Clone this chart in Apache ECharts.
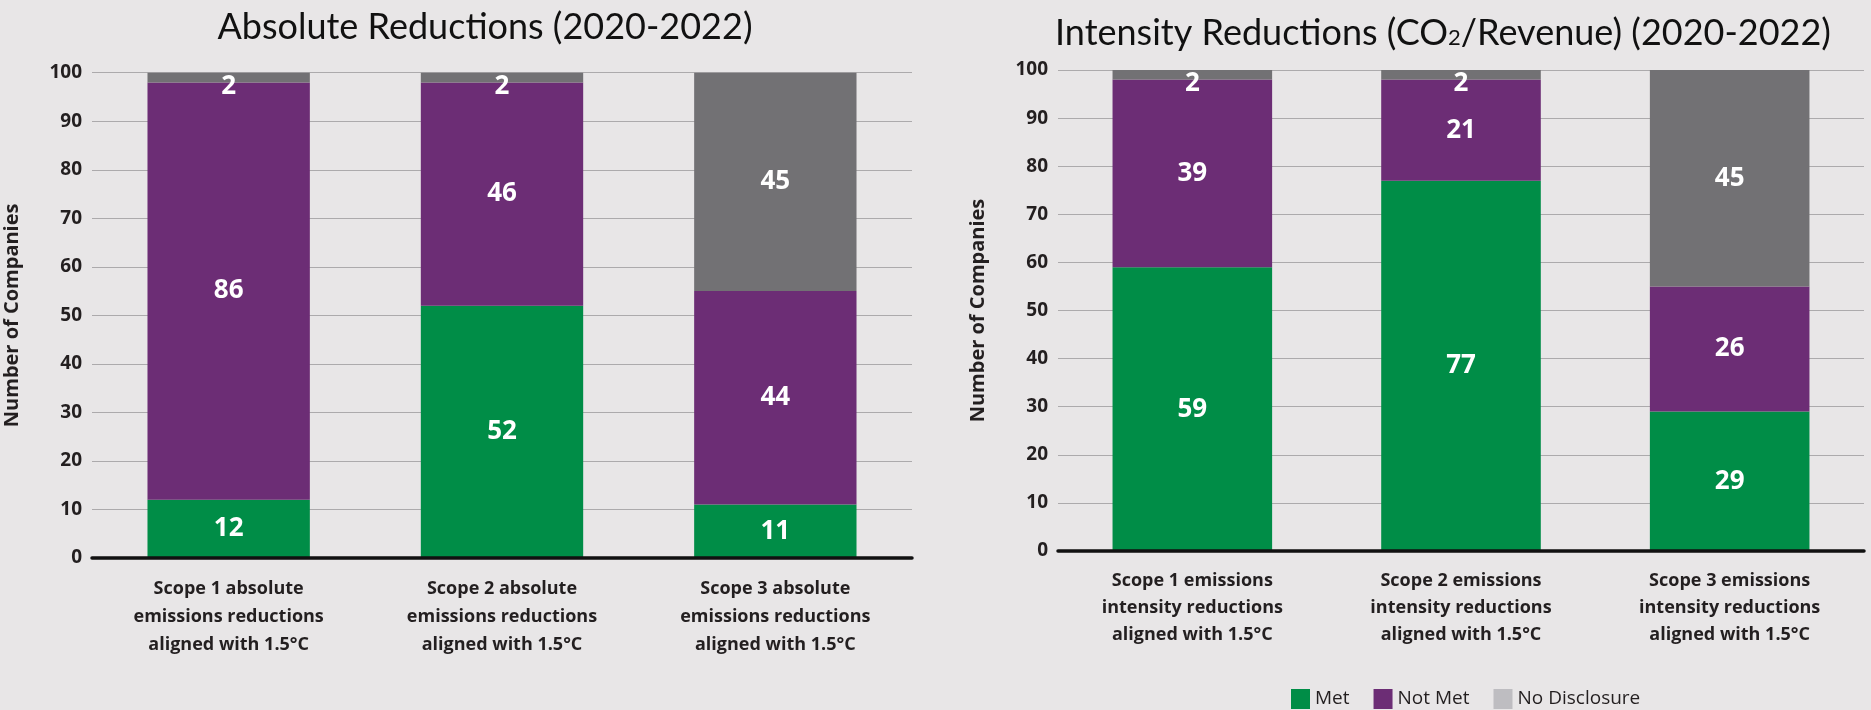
<!DOCTYPE html>
<html>
<head>
<meta charset="utf-8">
<title>Absolute and Intensity Reductions (2020-2022)</title>
<script src="https://cdn.jsdelivr.net/npm/echarts@6/dist/echarts.min.js"></script>
<style>
  html, body { margin: 0; padding: 0; background: #e8e6e7; }
  #chart { width: 1871px; height: 710px; }
</style>
</head>
<body>
<div id="chart"></div>
<script>
// Categories for each panel
const absCategories = [
  'Scope 1 absolute\nemissions reductions\naligned with 1.5°C',
  'Scope 2 absolute\nemissions reductions\naligned with 1.5°C',
  'Scope 3 absolute\nemissions reductions\naligned with 1.5°C'
];
const intCategories = [
  'Scope 1 emissions\nintensity reductions\naligned with 1.5°C',
  'Scope 2 emissions\nintensity reductions\naligned with 1.5°C',
  'Scope 3 emissions\nintensity reductions\naligned with 1.5°C'
];

// Number of companies per status
const absMet = [12, 52, 11];
const absNotMet = [86, 46, 44];
const absNoDisclosure = [2, 2, 45];

const intMet = [59, 77, 29];
const intNotMet = [39, 21, 26];
const intNoDisclosure = [2, 2, 45];

const seriesNames = ['Met', 'Not Met', 'No Disclosure'];
const yMin = 0, yMax = 100, yStep = 10;

const COLORS = { met: '#008d47', notMet: '#6c2d75', noDisc: '#727174', noDiscKey: '#bebdc1' };
const FONT = 'Open Sans';
const INK = '#231f20';

// Thin top segments get their value nudged down so it stays readable
function withLabels(values) {
  return values.map(v => v < 5 ? { value: v, label: { offset: [0, 9] } } : { value: v });
}

const barLabel = {
  show: true, position: 'inside', color: '#ffffff',
  fontFamily: FONT, fontWeight: 'bold', fontSize: 26
};

function makeSeries(name, color, values, idx, stack) {
  return {
    name, type: 'bar', stack, xAxisIndex: idx, yAxisIndex: idx,
    barWidth: '59.4%', itemStyle: { color },
    label: barLabel, data: withLabels(values), z: 2
  };
}

function xAxisDef(idx, cats, lineHeight, margin) {
  return {
    type: 'category', gridIndex: idx, data: cats,
    axisLine: { show: true, lineStyle: { color: '#111', width: 3.5 } },
    axisTick: { show: false },
    axisLabel: { fontFamily: FONT, fontWeight: 'bold', fontSize: 18, color: INK,
                 lineHeight, margin, interval: 0 },
    z: 5
  };
}

function yAxisDef(idx) {
  return {
    type: 'value', gridIndex: idx, min: yMin, max: yMax, interval: yStep,
    name: 'Number of Companies', nameLocation: 'middle', nameGap: 70,
    nameTextStyle: { fontFamily: FONT, fontWeight: 'bold', fontSize: 20, color: INK },
    axisLine: { show: false }, axisTick: { show: false },
    axisLabel: { fontFamily: FONT, fontWeight: 'bold', fontSize: 19, color: INK, margin: 10 },
    splitLine: { show: true, lineStyle: { color: '#acaaac', width: 1.2 } }
  };
}

const chart = echarts.init(document.getElementById('chart'), null, { renderer: 'canvas' });

chart.setOption({
  backgroundColor: '#e8e6e7',
  animation: false,
  grid: [
    { left: 92, top: 72.7, width: 820, height: 485.3 },
    { left: 1058, top: 70, width: 806, height: 481 }
  ],
  xAxis: [
    xAxisDef(0, absCategories, 28, 17),
    xAxisDef(1, intCategories, 27, 16)
  ],
  yAxis: [yAxisDef(0), yAxisDef(1)],
  legend: {
    left: 1291, top: 689, padding: 0, itemWidth: 19, itemHeight: 20, itemGap: 24, icon: 'rect',
    textStyle: { fontFamily: FONT, fontSize: 19, color: INK },
    data: [
      { name: seriesNames[0] },
      { name: seriesNames[1] },
      { name: seriesNames[2], itemStyle: { color: COLORS.noDiscKey } }
    ]
  },
  graphic: [
    {
      type: 'text', x: 485, y: 27, silent: true,
      style: {
        text: 'Absolute Reductions (2020-2022)',
        fontFamily: 'Lato', fontSize: 36, fill: '#111',
        align: 'center', verticalAlign: 'middle'
      }
    },
    {
      type: 'text', x: 1443, y: 33, silent: true,
      style: {
        text: '{a|Intensity Reductions (CO}{s|2}{a|/Revenue) (2020-2022)}',
        align: 'center', verticalAlign: 'middle',
        rich: {
          a: { fontFamily: 'Lato', fontSize: 36, fill: '#111' },
          s: { fontFamily: 'Lato', fontSize: 22, fill: '#111', padding: [10, 0, 0, 0] }
        }
      }
    }
  ],
  series: [
    makeSeries(seriesNames[0], COLORS.met, absMet, 0, 'abs'),
    makeSeries(seriesNames[1], COLORS.notMet, absNotMet, 0, 'abs'),
    makeSeries(seriesNames[2], COLORS.noDisc, absNoDisclosure, 0, 'abs'),
    makeSeries(seriesNames[0], COLORS.met, intMet, 1, 'int'),
    makeSeries(seriesNames[1], COLORS.notMet, intNotMet, 1, 'int'),
    makeSeries(seriesNames[2], COLORS.noDisc, intNoDisclosure, 1, 'int')
  ]
});
</script>
</body>
</html>
